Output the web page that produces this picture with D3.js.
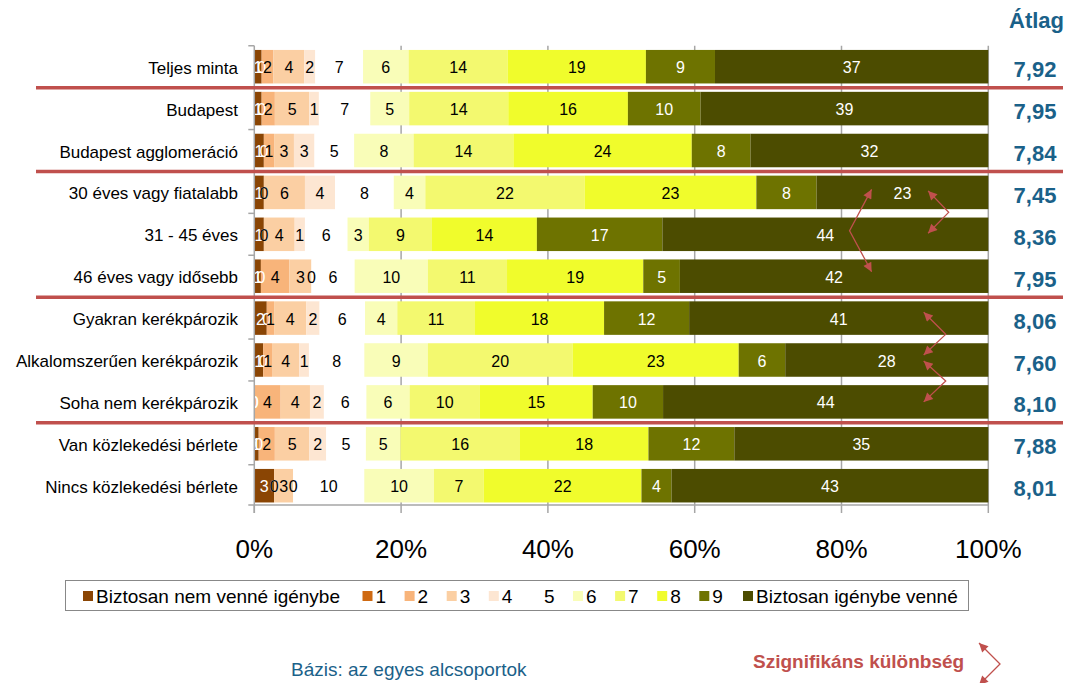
<!doctype html>
<html>
<head>
<meta charset="UTF-8">
<script src="https://d3js.org/d3.v7.min.js"></script>
<style>
	body { margin: 0; background: #fff; }
	svg { display: block; font-family: Arial, "Liberation Sans", sans-serif; }
</style>
</head>
<body>
<svg id="chart" width="1079" height="683"></svg>
<script>

// categories, top to bottom
const categories = ["Teljes minta", "Budapest", "Budapest agglomeráció",
	"30 éves vagy fiatalabb", "31 - 45 éves", "46 éves vagy idősebb",
	"Gyakran kerékpározik", "Alkalomszerűen kerékpározik", "Soha nem kerékpározik",
	"Van közlekedési bérlete", "Nincs közlekedési bérlete"];

// answer scale (series)
const seriesNames = ["Biztosan nem venné igénybe", "1", "2", "3", "4", "5", "6", "7", "8", "9", "Biztosan igénybe venné"];

// shares in % per category, one value per series
const shares = [
	[1.0, 0, 1.6, 4.2, 1.5, 6.5, 6.2, 13.5, 18.8, 9.4, 37.2],
	[1.0, 0, 1.8, 4.7, 1.3, 7.0, 5.3, 13.5, 16.3, 9.9, 39.2],
	[1.3, 0, 1.4, 2.7, 2.8, 5.4, 8.1, 13.6, 24.3, 8.0, 32.4],
	[1.3, 0, 0, 5.6, 4.1, 8.0, 4.3, 21.7, 23.4, 8.2, 23.4],
	[1.3, 0, 0, 4.2, 1.4, 5.8, 2.9, 8.6, 14.3, 17.1, 44.4],
	[0.9, 0, 3.9, 3.0, 0, 5.9, 10.0, 10.8, 18.6, 5.0, 42.1],
	[1.7, 0, 1.0, 4.4, 1.8, 6.2, 4.4, 10.6, 17.6, 11.6, 40.8],
	[1.2, 0, 1.2, 3.7, 1.3, 7.5, 8.6, 19.6, 22.5, 6.3, 27.5],
	[0, 0, 3.6, 4.0, 1.9, 5.8, 5.9, 9.6, 15.4, 9.6, 44.4],
	[0.6, 0, 2.2, 4.7, 2.3, 5.4, 4.7, 16.3, 17.5, 11.7, 34.6],
	[2.7, 0, 0, 2.6, 0, 9.7, 9.5, 6.8, 21.5, 4.1, 43.2]
];

// mean score per category
const averages = [7.92, 7.95, 7.84, 7.45, 8.36, 7.95, 8.06, 7.60, 8.10, 7.88, 8.01];

// x axis ticks
const tickValues = [0, 0.2, 0.4, 0.6, 0.8, 1];

// red separators are drawn under these category indexes
const groupEnds = [0, 2, 5, 8];

// significant differences: pairs of category indexes
const sigPairs = [[3, 5], [3, 4], [6, 7], [7, 8]];

const colors = ["#8a4504", "#cf6a12", "#f8b47a", "#fbcfa3", "#fde6d2", "#ffffff",
	"#f9fdb8", "#f3f96f", "#f0fc2c", "#6e7300", "#4c4c00"];
const whiteLabels = [0, 1, 9, 10];
const blue = "#1a6189", red = "#c0504d", grid = "#a6a6a6";

let svg = d3.select("#chart");

let x = d3.scaleLinear().domain([0, 1]).range([254.3, 988.3]);
let y = d3.scaleBand().domain(categories).range([45.75, 506.65]).paddingInner(0.2).paddingOuter(0.1);
let rowC = i => y(categories[i]) + y.bandwidth() / 2;
let plotTop = y.range()[0], axisY = 505;

// gridlines
svg.append("g").selectAll("line")
	.data(tickValues.slice(1))
	.enter().append("line")
	.attr("x1", d => x(d)).attr("x2", d => x(d))
	.attr("y1", plotTop).attr("y2", axisY)
	.attr("stroke", grid).attr("stroke-width", 1.5);

// stacked bars
let rows = shares.map((s, i) => {
	let o = { cat: categories[i] };
	s.forEach((v, k) => o[k] = v);
	return o;
});
let stack = d3.stack().keys(d3.range(seriesNames.length)).offset(d3.stackOffsetExpand);
let series = stack(rows);

let layers = svg.append("g").selectAll("g")
	.data(series)
	.enter().append("g")
	.attr("fill", d => colors[d.key]);

layers.selectAll("rect")
	.data(d => d)
	.enter().append("rect")
	.attr("x", d => x(d[0]))
	.attr("y", d => y(d.data.cat))
	.attr("width", d => Math.max(0, x(d[1]) - x(d[0])))
	.attr("height", y.bandwidth());

// data labels
let labels = svg.append("g").attr("font-size", 16).attr("text-anchor", "middle");
series.forEach(s => {
	labels.selectAll(null)
		.data(s)
		.enter().append("text")
		.attr("x", d => (x(d[0]) + x(d[1])) / 2)
		.attr("y", d => y(d.data.cat) + y.bandwidth() / 2 + 6.5)
		.attr("fill", whiteLabels.includes(s.key) ? "#fff" : "#000")
		.text(d => Math.round(d.data[s.key]));
});

// axes
let axis = svg.append("g").attr("stroke", grid).attr("stroke-width", 1.5);
axis.append("line").attr("x1", x(0)).attr("x2", x(1)).attr("y1", axisY).attr("y2", axisY);
axis.append("line").attr("x1", x(0)).attr("x2", x(0)).attr("y1", plotTop).attr("y2", axisY + 8);
axis.selectAll(".xt").data(tickValues).enter().append("line")
	.attr("x1", d => x(d)).attr("x2", d => x(d))
	.attr("y1", axisY).attr("y2", axisY + 8);
let bounds = categories.map(c => y(c) - y.step() * y.paddingInner() / 2);
bounds.push(axisY);
axis.selectAll(".yt").data(bounds).enter().append("line")
	.attr("x1", x(0) - 6).attr("x2", x(0))
	.attr("y1", d => d).attr("y2", d => d);

svg.append("g").attr("font-size", 26).attr("text-anchor", "middle")
	.selectAll("text").data(tickValues).enter().append("text")
	.attr("x", d => x(d)).attr("y", 558)
	.text(d => Math.round(d * 100) + "%");

svg.append("g").attr("font-size", 17).attr("text-anchor", "end")
	.selectAll("text").data(categories).enter().append("text")
	.attr("x", 238).attr("y", (d, i) => rowC(i) + 7)
	.text(d => d);

// red group separators
svg.append("g").selectAll("line")
	.data(groupEnds)
	.enter().append("line")
	.attr("x1", 36).attr("x2", 1063)
	.attr("y1", i => y(categories[i]) + y.bandwidth() + y.step() * y.paddingInner() / 2)
	.attr("y2", i => y(categories[i]) + y.bandwidth() + y.step() * y.paddingInner() / 2)
	.attr("stroke", red).attr("stroke-width", 3.5);

// averages
svg.append("text").attr("x", 1009).attr("y", 28)
	.attr("font-size", 22).attr("font-weight", "bold").attr("fill", blue).text("Átlag");
svg.append("g").attr("font-size", 22).attr("font-weight", "bold").attr("fill", blue).attr("text-anchor", "middle")
	.selectAll("text").data(averages).enter().append("text")
	.attr("x", 1035).attr("y", (d, i) => rowC(i) + 10.5)
	.text(d => d3.format(".2f")(d).replace(".", ","));

// legend
let legend = svg.append("g");
legend.append("rect").attr("x", 65.5).attr("y", 580.5).attr("width", 903).attr("height", 30)
	.attr("fill", "#fff").attr("stroke", "#888");
let legendX = seriesNames.map((n, i) => i == 0 ? 96 : (i < 10 ? 375.5 + 42.1 * (i - 1) : 756));
let items = legend.selectAll("g.item").data(seriesNames).enter().append("g").attr("class", "item");
items.append("rect")
	.attr("x", (d, i) => legendX[i] - 13).attr("y", 591).attr("width", 10).attr("height", 10)
	.attr("fill", (d, i) => colors[i]);
items.append("text")
	.attr("x", (d, i) => legendX[i]).attr("y", 603)
	.attr("font-size", 19).text(d => d);

// significance arrows
let defs = svg.append("defs");
defs.append("marker").attr("id", "head")
	.attr("viewBox", "0 0 10 10").attr("refX", 10).attr("refY", 5)
	.attr("markerUnits", "userSpaceOnUse").attr("markerWidth", 11).attr("markerHeight", 9)
	.attr("orient", "auto-start-reverse")
	.append("path").attr("d", "M0,0L10,5L0,10Z").attr("fill", red);

let arrowGeo = [
	{ tip: 0.841, bend: 0.811, dA: -3, dV: -3.5, dB: -4.5 },
	{ tip: 0.918, bend: 0.946, dA: -1.5, dV: -1, dB: -1 },
	{ tip: 0.912, bend: 0.942, dA: -5.8, dV: -4.7, dB: -5 },
	{ tip: 0.912, bend: 0.942, dA: 1, dV: 0, dB: 0 }
];
let line = d3.line();
svg.append("g").selectAll("path")
	.data(sigPairs)
	.enter().append("path")
	.attr("d", (p, i) => {
		let g = arrowGeo[i], a = rowC(p[0]) + g.dA, b = rowC(p[1]) + g.dB;
		let v = (p[1] - p[0] > 1 ? rowC((p[0] + p[1]) / 2) : (rowC(p[0]) + rowC(p[1])) / 2) + g.dV;
		return line([[x(g.tip), a], [x(g.bend), v], [x(g.tip), b]]);
	})
	.attr("fill", "none").attr("stroke", red).attr("stroke-width", 1.3)
	.attr("marker-start", "url(#head)").attr("marker-end", "url(#head)");

svg.append("path")
	.attr("d", line([[979, 643], [1000, 664], [979, 685]]))
	.attr("fill", "none").attr("stroke", red).attr("stroke-width", 1.3)
	.attr("marker-start", "url(#head)").attr("marker-end", "url(#head)");

svg.append("text").attr("x", 753).attr("y", 668)
	.attr("font-size", 19).attr("font-weight", "bold").attr("fill", red)
	.text("Szignifikáns különbség");

svg.append("text").attr("x", 291).attr("y", 676)
	.attr("font-size", 19).attr("fill", blue)
	.text("Bázis: az egyes alcsoportok");

</script>
</body>
</html>
